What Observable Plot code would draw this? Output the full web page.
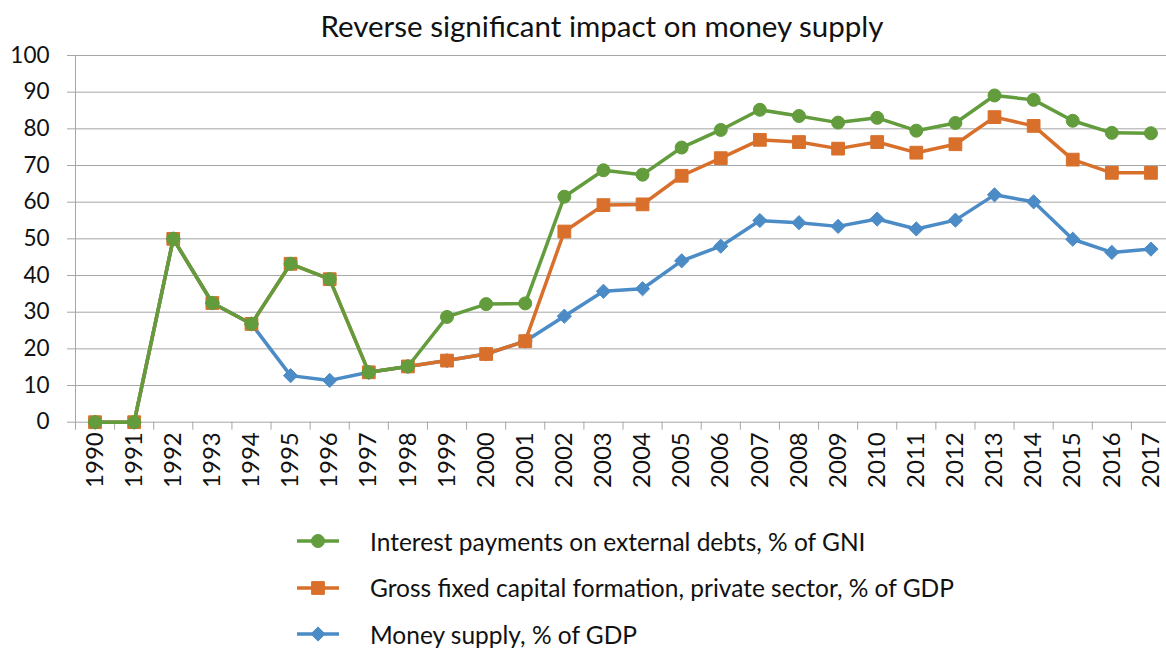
<!DOCTYPE html>
<html>
<head>
<meta charset="utf-8">
<script src="https://cdn.jsdelivr.net/npm/d3@7"></script>
<script src="https://cdn.jsdelivr.net/npm/@observablehq/plot@0.6"></script>
<style>
  html, body { margin: 0; padding: 0; background: #fff; }
  body { width: 1166px; height: 648px; position: relative; overflow: hidden; font-family: Lato, "Open Sans", sans-serif; color: #111; }
  #title { position: absolute; left: 38px; width: 1128px; top: 9px; text-align: center; font-size: 29.5px; line-height: 34px; }
  #chart { position: absolute; left: 0; top: 40px; }
  #legend { position: absolute; left: 297px; top: 518px; }
  .row { display: flex; align-items: center; height: 46.5px; font-size: 24.5px; }
  .row svg { margin-right: 31px; }
</style>
</head>
<body>
<div id="title">Reverse significant impact on money supply</div>
<div id="chart"></div>
<div id="legend"></div>
<script>
const years = [1990,1991,1992,1993,1994,1995,1996,1997,1998,1999,2000,2001,2002,2003,2004,2005,2006,2007,2008,2009,2010,2011,2012,2013,2014,2015,2016,2017];
const interestGNI = [0,0,50,32.5,26.8,43.2,39,13.6,15.2,28.7,32.2,32.4,61.5,68.7,67.5,74.9,79.7,85.2,83.5,81.7,83.0,79.5,81.6,89.1,87.9,82.2,78.9,78.8];
const capitalGDP = [0,0,50,32.5,26.8,43.2,39,13.6,15.2,16.8,18.6,22.1,52.0,59.2,59.4,67.2,72.0,77.0,76.4,74.6,76.4,73.5,75.8,83.2,80.8,71.6,68.0,68.0];
const moneyGDP = [0,0,50,32.5,26.8,12.7,11.4,13.6,15.2,16.8,18.6,22.1,28.9,35.7,36.4,44.0,48.0,55.0,54.4,53.4,55.4,52.7,55.1,62.0,60.1,49.9,46.3,47.2];
const seriesNames = [
  "Interest payments on external debts, % of GNI",
  "Gross fixed capital formation, private sector, % of GDP",
  "Money supply, % of GDP"
];
const yTicks = [0,10,20,30,40,50,60,70,80,90,100];

const colors = ["#629c3c", "#d8702b", "#4b8bc6"];
const symbols = ["circle", "square", "diamond2"];
const radii = [6.5, 7.2, 6.4];

const table = (vals, i) => years.map((y, k) => ({year: y, value: vals[k], series: seriesNames[i]}));
const green = table(interestGNI, 0);
const orange = table(capitalGDP, 1);
const blue = table(moneyGDP, 2);
const boundaries = years.map(y => y - 0.5).concat([years[years.length - 1] + 0.5]);

const grid = "#a6a6a6";
const seriesMarks = (data, i) => [
  Plot.line(data, {x: "year", y: "value", stroke: colors[i], strokeWidth: 3.5, strokeLinejoin: "round"}),
  Plot.dot(data, {x: "year", y: "value", symbol: () => symbols[i], r: radii[i], fill: colors[i], stroke: colors[i], strokeWidth: 1})
];

const chart = Plot.plot({
  width: 1166,
  height: 460,
  marginTop: 15,
  marginBottom: 78.3,
  marginLeft: 75,
  marginRight: 0,
  style: {fontFamily: "Lato, 'Open Sans', sans-serif", color: "#111", background: "transparent", overflow: "visible"},
  x: {domain: [years[0] - 0.5, years[years.length - 1] + 0.5], range: [75, 1170]},
  y: {domain: [0, 100]},
  symbol: {type: "identity"},
  marks: [
    Plot.gridY(yTicks, {stroke: grid, strokeOpacity: 1, strokeWidth: 1}),
    Plot.axisY(yTicks, {tickSize: 8, tickPadding: 18, stroke: grid, fontSize: 22.5, label: null, fill: "#111"}),
    Plot.axisX(boundaries, {tickSize: 8, tickFormat: () => "", stroke: grid, label: null}),
    Plot.axisX(years, {tickSize: 0, tickPadding: 10, tickRotate: -90, tickFormat: d => String(d), fontSize: 24, label: null, fill: "#111"}),
    Plot.ruleX([years[0] - 0.5], {y1: 0, y2: 100, stroke: grid, strokeWidth: 1}),
    ...seriesMarks(blue, 2),
    ...seriesMarks(orange, 1),
    ...seriesMarks(green, 0)
  ]
});
document.getElementById("chart").appendChild(chart);

// legend
const legend = document.getElementById("legend");
seriesNames.forEach((name, i) => {
  const row = document.createElement("div");
  row.className = "row";
  const sym = d3.create("svg").attr("width", 42).attr("height", 20);
  sym.append("line").attr("x1", 0).attr("x2", 42).attr("y1", 10).attr("y2", 10)
     .attr("stroke", colors[i]).attr("stroke-width", 3.5);
  const sz = Math.PI * radii[i] * radii[i];
  const symType = [d3.symbolCircle, d3.symbolSquare, d3.symbolDiamond2][i];
  sym.append("path").attr("transform", "translate(21,10)").attr("d", d3.symbol(symType, sz)())
     .attr("fill", colors[i]).attr("stroke", colors[i]);
  row.appendChild(sym.node());
  const span = document.createElement("span");
  span.textContent = name;
  row.appendChild(span);
  legend.appendChild(row);
});
</script>
</body>
</html>
